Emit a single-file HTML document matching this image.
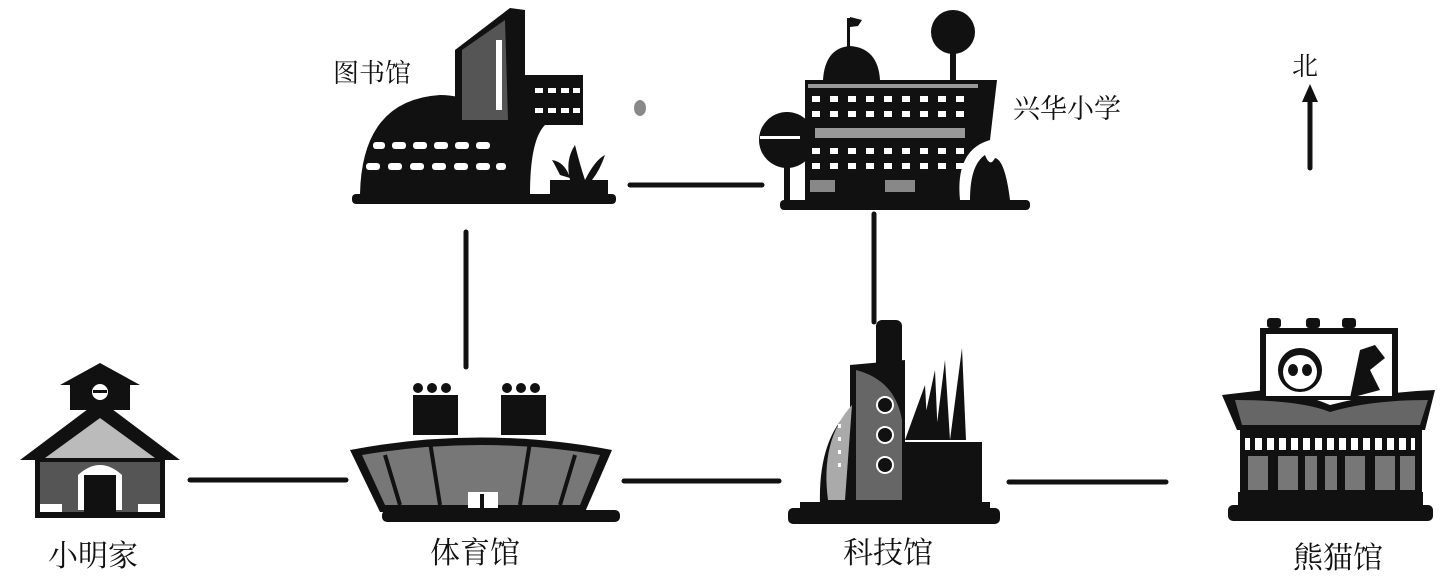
<!DOCTYPE html>
<html><head><meta charset="utf-8"><style>
html,body{margin:0;padding:0;background:#fff;}
svg{display:block;}
text{font-family:"Liberation Serif","Noto Serif CJK SC",serif;fill:#111;}
</style></head><body>
<svg width="1447" height="577" viewBox="0 0 1447 577" xmlns="http://www.w3.org/2000/svg">
<g stroke="#111" stroke-width="5" stroke-linecap="round">
<line x1="630" y1="185" x2="762" y2="185"/>
<line x1="466" y1="232" x2="466" y2="367"/>
<line x1="874" y1="214" x2="874" y2="322"/>
<line x1="190" y1="480" x2="346" y2="480"/>
<line x1="624" y1="481" x2="779" y2="481"/>
<line x1="1009" y1="482" x2="1166" y2="482"/>
<line x1="1310" y1="100" x2="1310" y2="168"/>
</g>
<polygon points="1310,84 1302,102 1318,102" fill="#111"/>
<text x="1292" y="75" font-size="26">北</text>
<text x="333" y="82" font-size="26">图书馆</text>
<text x="1013" y="118" font-size="27">兴华小学</text>
<text x="48" y="566" font-size="30">小明家</text>
<text x="430" y="563" font-size="30">体育馆</text>
<text x="843" y="563" font-size="30">科技馆</text>
<text x="1293" y="568" font-size="30">熊猫馆</text>

<!-- Library -->
<g fill="#111">
<rect x="352" y="194" width="264" height="10" rx="4"/>
<path d="M360,194 Q362,100 440,95 Q505,95 515,194Z"/>
<path d="M455,50 L510,8 L525,10 L525,75 L583,75 L583,125 L545,125 Q530,140 530,194 L455,194Z"/>
<path d="M462,50 L505,20 L508,120 L462,120Z" fill="#555"/>
<rect x="496" y="40" width="6" height="70" fill="#fff"/>
<path d="M550,194 L550,180 L608,180 L608,194Z"/>
<path d="M570,180 Q565,160 575,145 Q580,165 585,180Z M585,180 Q595,160 605,155 Q600,170 592,180Z M560,175 Q555,165 552,160 Q565,162 570,178Z"/>
</g>
<g fill="#fff">
<rect x="373" y="142" width="12" height="7" rx="3"/><rect x="392" y="142" width="14" height="7" rx="3"/><rect x="413" y="142" width="14" height="7" rx="3"/><rect x="434" y="142" width="14" height="7" rx="3"/><rect x="455" y="142" width="14" height="7" rx="3"/><rect x="476" y="142" width="14" height="7" rx="3"/>
<rect x="366" y="163" width="14" height="7" rx="3"/><rect x="388" y="163" width="14" height="7" rx="3"/><rect x="410" y="163" width="14" height="7" rx="3"/><rect x="432" y="163" width="14" height="7" rx="3"/><rect x="454" y="163" width="14" height="7" rx="3"/><rect x="476" y="163" width="14" height="7" rx="3"/><rect x="496" y="163" width="10" height="7" rx="3"/>
<rect x="535" y="88" width="8" height="5"/><rect x="548" y="88" width="8" height="5"/><rect x="561" y="88" width="8" height="5"/><rect x="573" y="88" width="7" height="5"/>
<rect x="535" y="108" width="8" height="5"/><rect x="548" y="108" width="8" height="5"/><rect x="561" y="108" width="8" height="5"/><rect x="573" y="108" width="7" height="5"/>
</g>

<!-- School -->
<g fill="#111">
<rect x="780" y="200" width="250" height="10" rx="4"/>
<circle cx="953" cy="32" r="22"/><rect x="950" y="50" width="6" height="30"/>
<path d="M823,80 Q825,48 850,46 Q878,48 880,80Z"/>
<rect x="847" y="18" width="3" height="30"/><path d="M850,17 L862,20 L858,26 L850,27Z"/>
<path d="M805,80 L997,80 L990,140 Q955,150 960,200 L805,200Z"/>
<circle cx="787" cy="140" r="28"/><rect x="784" y="160" width="6" height="40"/>
<path d="M970,200 Q970,165 985,155 Q990,168 995,158 Q1005,160 1010,200Z"/>
</g>
<g fill="#fff">
<rect x="808" y="84" width="170" height="4" fill="#999"/>
<g id="wr"><rect x="0" y="0" width="8" height="6"/><rect x="18" y="0" width="8" height="6"/><rect x="36" y="0" width="8" height="6"/><rect x="54" y="0" width="8" height="6"/><rect x="72" y="0" width="8" height="6"/><rect x="90" y="0" width="8" height="6"/><rect x="108" y="0" width="8" height="6"/><rect x="126" y="0" width="8" height="6"/><rect x="144" y="0" width="8" height="6"/></g>
<use href="#wr" x="812" y="96"/><use href="#wr" x="812" y="111"/>
<rect x="815" y="128" width="150" height="10" fill="#999"/>
<use href="#wr" x="812" y="148"/><use href="#wr" x="812" y="163"/>
<rect x="810" y="180" width="25" height="12" fill="#888"/><rect x="885" y="180" width="30" height="12" fill="#888"/>
<rect x="760" y="136" width="40" height="3"/>
</g>

<!-- Home -->
<g fill="#111">
<path d="M60,385 L100,363 L140,385 L130,385 L130,410 L70,410 L70,385Z"/>
<path d="M20,460 L100,400 L180,460 L165,460 L165,518 L35,518 L35,460Z"/>
</g>
<g>
<path d="M45,458 L100,418 L155,458Z" fill="#bbb"/>
<rect x="40" y="462" width="120" height="50" fill="#555"/>
<path d="M78,510 L78,475 Q100,455 122,475 L122,510Z" fill="#fff"/>
<rect x="84" y="475" width="32" height="40" fill="#111"/>
<circle cx="100" cy="392" r="8" fill="#fff"/><rect x="93" y="390" width="14" height="3" fill="#111"/>
<rect x="40" y="504" width="22" height="8" fill="#fff"/><rect x="138" y="504" width="22" height="8" fill="#fff"/>
</g>

<!-- Stadium -->
<g fill="#111">
<rect x="382" y="510" width="238" height="12" rx="5"/>
<path d="M350,450 Q480,425 612,450 L585,512 L380,512Z"/>
<rect x="413" y="395" width="45" height="40"/><rect x="501" y="395" width="45" height="40"/>
<circle cx="418" cy="388" r="5"/><circle cx="432" cy="388" r="5"/><circle cx="446" cy="388" r="5"/>
<circle cx="507" cy="388" r="5"/><circle cx="521" cy="388" r="5"/><circle cx="535" cy="388" r="5"/>
</g>
<path d="M362,455 Q480,435 600,455 L580,505 L385,505Z" fill="#777"/>
<g stroke="#111" stroke-width="4"><line x1="430" y1="442" x2="440" y2="505"/><line x1="530" y1="442" x2="520" y2="505"/><line x1="385" y1="455" x2="400" y2="505"/><line x1="575" y1="455" x2="560" y2="505"/></g>
<rect x="468" y="492" width="30" height="16" fill="#fff"/><rect x="480" y="494" width="4" height="14" fill="#111"/>

<!-- Science -->
<g fill="#111">
<rect x="788" y="508" width="212" height="16" rx="5"/><rect x="800" y="502" width="190" height="8"/>
<rect x="876" y="320" width="26" height="50" rx="6"/>
<path d="M850,365 L905,360 L905,505 L820,505 Q818,440 850,410Z"/>
<rect x="900" y="442" width="82" height="65"/>
<path d="M905,440 L925,385 L928,440Z M920,440 L935,370 L938,440Z M935,440 L945,360 L950,440Z M950,440 L962,348 L966,440Z"/>
</g>
<path d="M828,500 Q820,440 852,405 L845,500Z" fill="#aaa"/>
<path d="M856,370 Q895,380 902,420 L902,500 L856,500Z" fill="#666"/>
<g fill="#fff"><rect x="838" y="385" width="3" height="4"/><rect x="838" y="398" width="3" height="4"/><rect x="838" y="411" width="3" height="4"/><rect x="838" y="424" width="3" height="4"/><rect x="838" y="437" width="3" height="4"/><rect x="838" y="450" width="3" height="4"/><rect x="838" y="463" width="3" height="4"/></g>
<g fill="#111" stroke="#fff" stroke-width="2"><circle cx="885" cy="405" r="8"/><circle cx="885" cy="435" r="8"/><circle cx="885" cy="465" r="8"/></g>

<!-- Panda -->
<g fill="#111">
<rect x="1228" y="505" width="205" height="16" rx="5"/><rect x="1238" y="492" width="185" height="14"/>
<rect x="1267" y="318" width="14" height="10" rx="3"/><rect x="1306" y="318" width="14" height="10" rx="3"/><rect x="1342" y="318" width="14" height="10" rx="3"/>
<rect x="1260" y="328" width="138" height="72"/>
<path d="M1222,395 L1265,390 Q1300,392 1330,405 Q1380,392 1435,390 L1425,430 L1237,430Z"/>
<rect x="1240" y="425" width="182" height="70"/>
</g>
<rect x="1266" y="334" width="126" height="62" fill="#fff"/>
<circle cx="1300" cy="370" r="22" fill="#111"/><circle cx="1300" cy="372" r="17" fill="#fff"/>
<ellipse cx="1293" cy="370" rx="5" ry="6" fill="#111"/><ellipse cx="1307" cy="370" rx="5" ry="6" fill="#111"/>
<path d="M1350,398 L1360,350 L1375,345 L1385,358 L1370,370 L1380,390Z" fill="#111"/>
<path d="M1235,400 Q1300,400 1330,412 Q1370,400 1428,400 L1420,425 L1242,425Z" fill="#666"/>
<g fill="#fff"><rect x="1245" y="438" width="170" height="12"/></g>
<g fill="#111"><rect x="1250" y="438" width="5" height="12"/><rect x="1262" y="438" width="5" height="12"/><rect x="1274" y="438" width="5" height="12"/><rect x="1286" y="438" width="5" height="12"/><rect x="1298" y="438" width="5" height="12"/><rect x="1310" y="438" width="5" height="12"/><rect x="1322" y="438" width="5" height="12"/><rect x="1334" y="438" width="5" height="12"/><rect x="1346" y="438" width="5" height="12"/><rect x="1358" y="438" width="5" height="12"/><rect x="1370" y="438" width="5" height="12"/><rect x="1382" y="438" width="5" height="12"/><rect x="1394" y="438" width="5" height="12"/><rect x="1406" y="438" width="5" height="12"/></g>
<g fill="#777"><rect x="1248" y="456" width="20" height="34"/><rect x="1278" y="456" width="20" height="34"/><rect x="1305" y="456" width="12" height="34"/><rect x="1325" y="456" width="12" height="34"/><rect x="1345" y="456" width="20" height="34"/><rect x="1375" y="456" width="20" height="34"/><rect x="1400" y="456" width="15" height="34"/></g>
<ellipse cx="640" cy="108" rx="6" ry="8" fill="#888"/>
</svg>
</body></html>
